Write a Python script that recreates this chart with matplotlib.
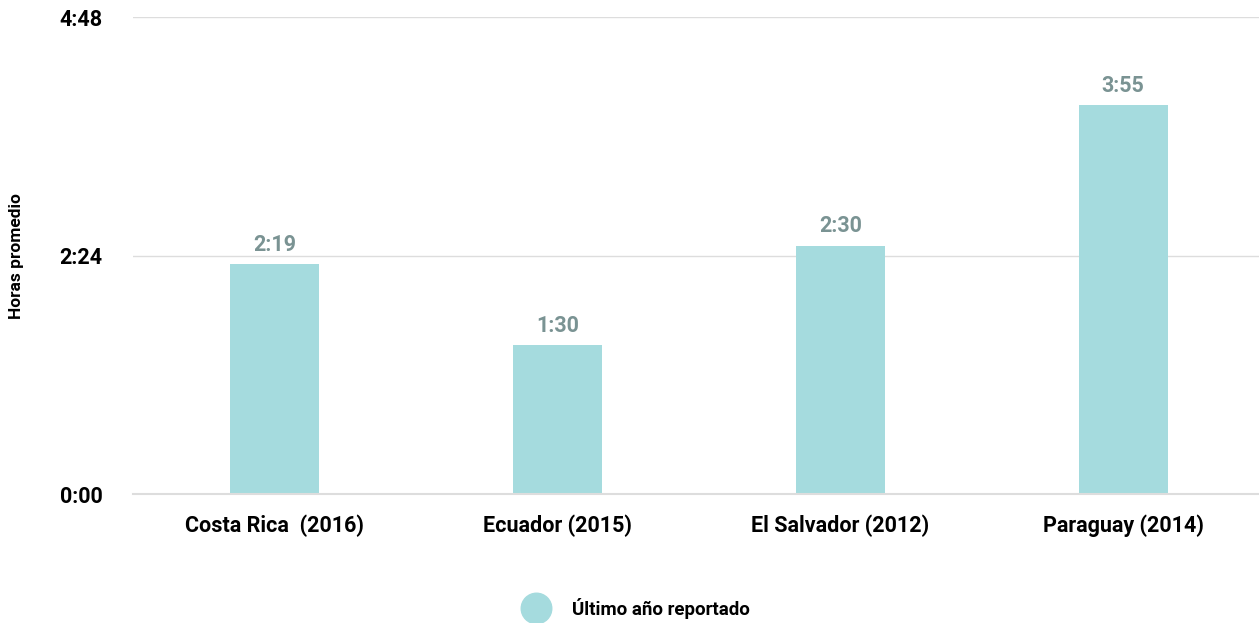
import matplotlib.pyplot as plt
from matplotlib.lines import Line2D

# minutes per day, latest year reported
countries = ["Costa Rica  (2016)", "Ecuador (2015)", "El Salvador (2012)", "Paraguay (2014)"]
minutes = [139, 90, 150, 235]
yticks = [0, 144, 288]

bar_color = "#a5dbde"
label_color = "#7a9393"

plt.rcParams['font.family'] = ['Roboto', 'DejaVu Sans']
plt.rcParams['font.weight'] = 'bold'


def hmm(m):
    return f"{int(m) // 60}:{int(m) % 60:02d}"


fig = plt.figure(figsize=(12.59, 6.23), dpi=100)
ax = fig.add_axes([0.1056, 0.207, 0.8944, 0.7656])

x = range(len(countries))
ax.bar(x, minutes, width=0.315, color=bar_color, zorder=2)

for xi, m in zip(x, minutes):
    ax.text(xi, m + 5, hmm(m), ha='center', va='bottom', fontsize=15.5,
            fontweight='bold', color=label_color)

ax.set_xlim(-0.5, 3.48)
ax.set_ylim(0, 288)
ax.set_yticks(yticks)
ax.set_yticklabels([hmm(t) for t in yticks], fontsize=15.5, fontweight='bold')
ax.set_xticks(list(x))
ax.set_xticklabels(countries, fontsize=15.5, fontweight='bold')
ax.tick_params(axis='y', length=0, pad=22)
ax.tick_params(axis='x', length=0, pad=15)
ax.grid(axis='y', color='#dddddd', linewidth=1, zorder=0)
ax.axhline(0, color='#dddddd', linewidth=1.5, zorder=3, clip_on=False)
for s in ax.spines.values():
    s.set_visible(False)

fig.text(0.013, 0.589, "Horas promedio", rotation=90, ha='center', va='center',
         fontsize=12.5, fontweight='bold')

handle = Line2D([], [], marker='o', linestyle='none', markersize=22,
                markerfacecolor=bar_color, markeredgecolor=bar_color)
fig.legend([handle], ["Último año reportado"], loc='center',
           bbox_to_anchor=(0.503, 0.024), frameon=False,
           prop={'size': 13.5, 'weight': 'bold'}, handletextpad=0.9)

fig.savefig("out.png", dpi=100)
